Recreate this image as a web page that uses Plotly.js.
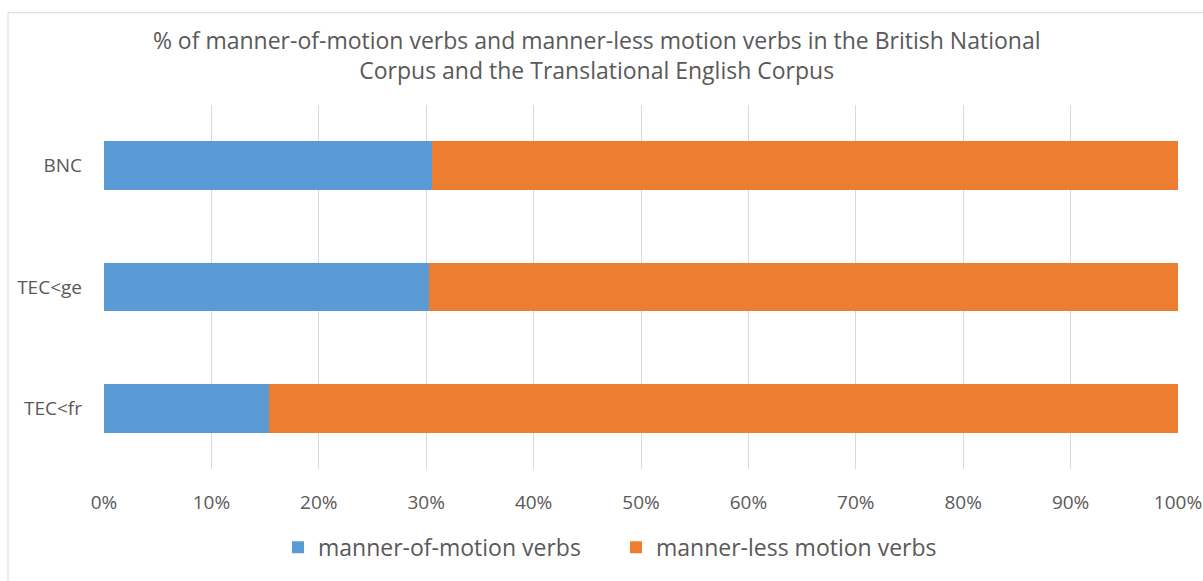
<!DOCTYPE html>
<html>
<head>
<meta charset="utf-8">
<script src="https://cdn.plot.ly/plotly-3.0.1.min.js"></script>
<style>
  html, body { margin: 0; padding: 0; background: #ffffff; }
  #chart { width: 1203px; height: 581px; }
</style>
</head>
<body>
<div id="chart"></div>
<script>
const categories = ['BNC', 'TEC<ge', 'TEC<fr'];
const categoryLabels = ['BNC', 'TEC&lt;ge', 'TEC&lt;fr'];
const mannerOfMotion = [30.5, 30.3, 15.4];
const mannerLess = [69.5, 69.7, 84.6];
const seriesNames = ['manner-of-motion verbs', 'manner-less motion verbs'];
const xTickVals = [0, 10, 20, 30, 40, 50, 60, 70, 80, 90, 100];
const xTickLabels = ['0%', '10%', '20%', '30%', '40%', '50%', '60%', '70%', '80%', '90%', '100%'];

const FONT = 'Open Sans, sans-serif';
const TEXT = '#595959';

const data = [
  {
    type: 'bar', orientation: 'h', name: seriesNames[0],
    y: categories, x: mannerOfMotion,
    marker: { color: '#5B9BD5', line: { width: 0 } },
    hoverinfo: 'x+name'
  },
  {
    type: 'bar', orientation: 'h', name: seriesNames[1],
    y: categories, x: mannerLess,
    marker: { color: '#ED7D31', line: { width: 0 } },
    hoverinfo: 'x+name'
  }
];

const layout = {
  width: 1203, height: 581,
  paper_bgcolor: '#ffffff', plot_bgcolor: '#ffffff',
  margin: { l: 104, r: 25, t: 105, b: 109 },
  barmode: 'stack',
  bargap: 0.6,
  font: { family: FONT, color: TEXT },
  title: {
    text: '% of manner-of-motion verbs and manner-less motion verbs in the British National<br>Corpus and the Translational English Corpus',
    font: { family: FONT, size: 23, color: TEXT },
    x: 0.496, xref: 'container', xanchor: 'center',
    y: 1 - 49 / 581, yref: 'container', yanchor: 'middle'
  },
  xaxis: {
    range: [0, 100], tickvals: xTickVals, ticktext: xTickLabels,
    showgrid: true, gridcolor: '#d9d9d9', gridwidth: 1,
    zeroline: false, showline: false, ticks: '',
    ticklabelstandoff: 20,
    tickfont: { family: FONT, size: 19, color: TEXT },
    fixedrange: true
  },
  yaxis: {
    type: 'category', autorange: 'reversed',
    tickvals: categories, ticktext: categoryLabels,
    showgrid: false, zeroline: false, showline: false, ticks: '',
    ticklabelstandoff: 21,
    tickfont: { family: FONT, size: 19, color: TEXT },
    fixedrange: true
  },
  legend: {
    orientation: 'h', x: (278 - 104) / 1074, xanchor: 'left',
    y: (472 - 551) / 367, yanchor: 'middle',
    font: { family: FONT, size: 23, color: TEXT },
    traceorder: 'normal', itemwidth: 30,
    entrywidth: 293, entrywidthmode: 'pixels'
  },
  shapes: [
    { type: 'line', xref: 'paper', yref: 'paper',
      x0: (8 - 104) / 1074, x1: (8 - 104) / 1074,
      y0: (472 - 12) / 367, y1: (472 - 585) / 367,
      line: { color: '#d9d9d9', width: 1 }, layer: 'below' },
    { type: 'line', xref: 'paper', yref: 'paper',
      x0: (8 - 104) / 1074, x1: (1210 - 104) / 1074,
      y0: (472 - 12) / 367, y1: (472 - 12) / 367,
      line: { color: '#d9d9d9', width: 1 }, layer: 'below' }
  ],
  showlegend: true
};

Plotly.newPlot('chart', data, layout, { displayModeBar: false, responsive: false });
</script>
</body>
</html>
